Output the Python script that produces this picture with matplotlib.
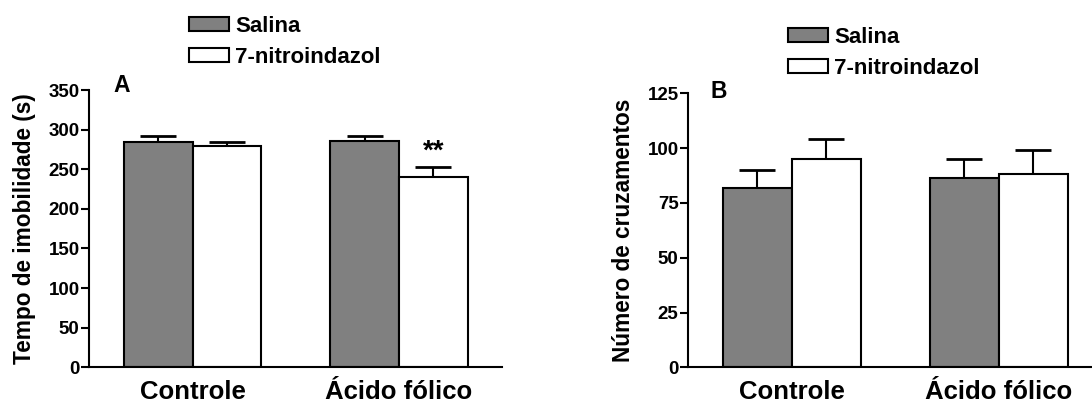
import numpy as np
import matplotlib
matplotlib.use("Agg")
import matplotlib.pyplot as plt

plt.rcParams['font.family'] = ['Liberation Sans', 'DejaVu Sans']
plt.rcParams['font.weight'] = 'bold'

groups = ['Controle', 'Ácido fólico']
series = ['Salina', '7-nitroindazol']

# A: immobility time (s), mean and SEM
a_salina = [285, 286]
a_salina_sem = [7, 6.5]
a_nitro = [279, 240]
a_nitro_sem = [5, 13]

# B: number of crossings, mean and SEM
b_salina = [82, 86.5]
b_salina_sem = [8, 8.5]
b_nitro = [95, 88]
b_nitro_sem = [9, 11]

colors = ['#808080', '#ffffff']
lw = 1.5
w = 1 / 3

fig = plt.figure(figsize=(10.92, 4.04), dpi=100)
axA = fig.add_axes([0.0818, 0.0908, 0.3782, 0.6864])
axB = fig.add_axes([0.6303, 0.0908, 0.3791, 0.678])


def draw_panel(ax, vals, sems, ymax, ystep, ylabel, letter, letter_xy, label_x):
    x = np.arange(len(groups))
    offs = [-w / 2, w / 2]
    handles = []
    for i in range(2):
        ax.errorbar(x + offs[i], vals[i], yerr=[np.zeros(len(x)), sems[i]],
                    fmt='none', ecolor='black', elinewidth=lw, capsize=13,
                    capthick=2, zorder=1)
        h = ax.bar(x + offs[i], vals[i], width=w, color=colors[i],
                   edgecolor='black', linewidth=lw, zorder=2, label=series[i])
        handles.append(h)
    ax.set_xlim(-0.5, 1.5)
    ax.set_ylim(0, ymax)
    ax.set_yticks(np.arange(0, ymax + 1, ystep))
    for s in ['top', 'right']:
        ax.spines[s].set_visible(False)
    for s in ['left', 'bottom']:
        ax.spines[s].set_linewidth(lw)
    ax.tick_params(axis='y', length=6, width=lw, pad=1, labelsize=13.5)
    ax.set_xticks(x, groups, fontsize=18.5)
    ax.tick_params(axis='x', length=0, pad=22.6)
    for t in ax.get_xticklabels():
        t.set_verticalalignment('baseline')
    for t in ax.get_yticklabels():
        t.set_fontweight('bold')
    ax.set_ylabel(ylabel, fontsize=16.3, fontweight='bold')
    ax.yaxis.set_label_coords(label_x, 0.5)
    ax.text(letter_xy[0], letter_xy[1], letter, transform=ax.transAxes,
            fontsize=16.5, fontweight='bold', ha='center', va='center')
    return handles


hA = draw_panel(axA, [a_salina, a_nitro], [a_salina_sem, a_nitro_sem],
                350, 50, 'Tempo de imobilidade (s)', 'A', (0.079, 1.018), -0.128)
hB = draw_panel(axB, [b_salina, b_nitro], [b_salina_sem, b_nitro_sem],
                125, 25, 'Número de cruzamentos', 'B', (0.074, 1.006), -0.129)

# significance mark over the 7-nitroindazol / Ácido fólico bar
axA.text(1 + w / 2, a_nitro[1] + a_nitro_sem[1] + 10, '**', ha='center',
         va='baseline', fontsize=20, fontweight='bold')

leg_kw = dict(frameon=False, handlelength=1.8, handleheight=0.6,
              handletextpad=0.27, labelspacing=0.43, borderpad=0,
              borderaxespad=0, loc='center left',
              prop={'weight': 'bold', 'size': 16})
fig.legend(handles=hA, labels=series, bbox_to_anchor=(0.1734, 0.8964), **leg_kw)
fig.legend(handles=hB, labels=series, bbox_to_anchor=(0.7219, 0.8691), **leg_kw)

fig.savefig('out.png', dpi=100)
